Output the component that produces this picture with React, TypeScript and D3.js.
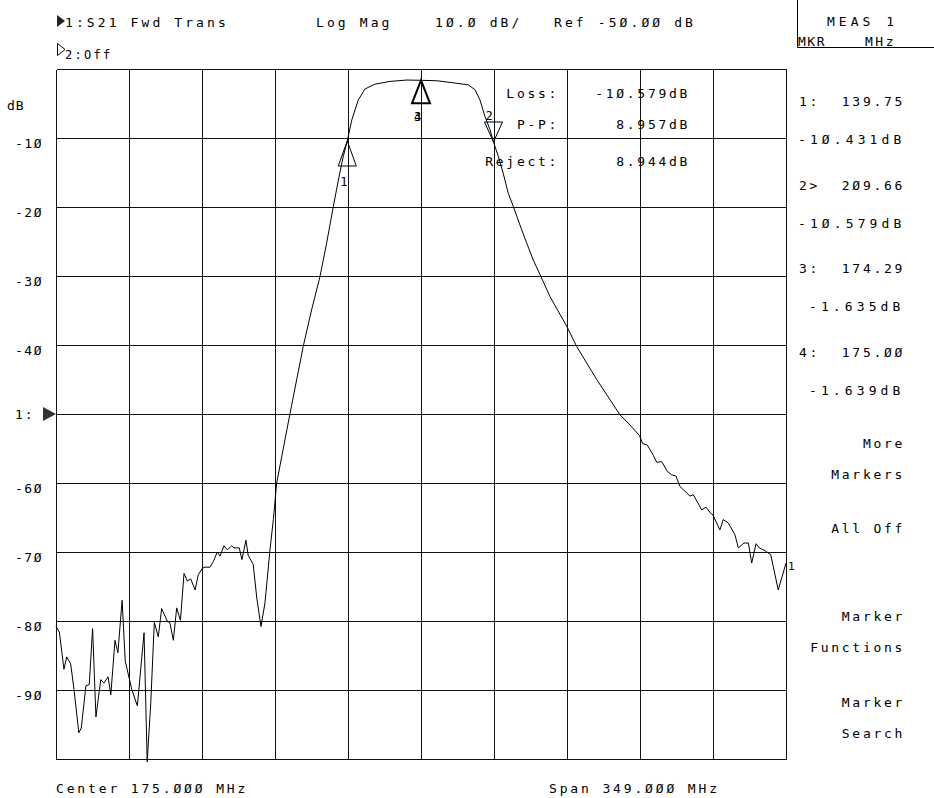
import React from "react";
import * as d3 from "d3";

const freqMHz = [
  0.5, 2.1, 4.3, 5.6, 7.5, 9.1, 11.4, 12.6, 14.8, 16.4, 18.0, 19.6, 21.9, 23.4, 25.4, 26.7, 28.7, 30.1, 32.1, 33.6,
  36.7, 39.4, 42.6, 44.1, 45.8, 47.5, 49.4, 51.0, 53.7, 55.0, 56.6, 58.2, 60.0, 61.7, 63.3, 64.9, 67.0, 68.5, 70.6, 71.7,
  74.1, 75.7, 77.6, 78.9, 80.8, 82.4, 84.5, 85.6, 88.1, 89.4, 91.3, 92.4, 94.8, 96.5, 98.5, 100.4, 102.8, 104.4, 106.0, 112.4,
  118.7, 122.7, 126.7, 129.9, 133.1, 135.5, 137.8, 139.75, 141.9, 145.0, 148.2, 153.0, 160.2, 168.2, 175.0, 182.5, 190.4, 197.6, 200.8, 203.2,
  205.6, 208.0, 209.66, 212.0, 214.3, 216.7, 219.1, 222.3, 225.5, 228.7, 231.9, 236.7, 244.7, 249.4, 259.0, 270.1, 274.9, 279.4, 281.0, 283.2,
  286.1, 287.7, 290.1, 292.7, 294.8, 296.9, 298.8, 301.2, 303.6, 305.2, 309.2, 311.3, 313.2, 314.5, 317.9, 319.5, 321.9, 325.1, 326.7, 329.4,
  331.5, 333.1, 335.2, 336.7, 339.5, 342.2, 345.8, 349.5,
];
const magDB = [
  -80.8, -81.6, -87.0, -85.2, -86.2, -89.9, -96.2, -95.5, -89.4, -89.2, -81.1, -93.9, -88.5, -89.0, -88.1, -90.7, -82.8, -84.6, -77.0, -85.8,
  -89.9, -92.3, -81.7, -100.4, -91.9, -80.2, -82.3, -78.2, -80.0, -80.3, -82.8, -78.1, -79.9, -73.1, -74.2, -73.9, -75.5, -73.3, -72.3, -72.2,
  -72.2, -71.4, -70.0, -70.6, -69.1, -69.7, -69.1, -69.4, -69.4, -71.1, -68.3, -70.5, -71.8, -76.7, -80.8, -77.4, -69.7, -65.3, -60.0, -49.9,
  -40.2, -34.9, -30.1, -25.2, -19.9, -16.1, -12.7, -10.431, -7.4, -4.5, -2.9, -2.2, -1.8, -1.6, -1.639, -1.7, -2.0, -2.3, -3.0, -4.5,
  -6.9, -8.8, -10.579, -12.7, -15.1, -18.0, -19.9, -22.6, -25.2, -27.7, -29.8, -33.0, -37.3, -40.2, -45.0, -50.1, -51.6, -53.1, -54.3, -54.5,
  -56.0, -57.0, -56.9, -58.3, -58.8, -59.0, -60.5, -61.2, -61.9, -61.7, -63.9, -63.5, -64.3, -64.6, -66.8, -65.3, -65.8, -67.5, -69.4, -68.7,
  -68.7, -71.6, -68.8, -69.4, -69.8, -70.4, -75.5, -71.6,
];

const yTickValues = [-10, -20, -30, -40, -60, -70, -80, -90];
const yTickLabels = ["-1Ø", "-2Ø", "-3Ø", "-4Ø", "-6Ø", "-7Ø", "-8Ø", "-9Ø"];

const markerIds = ["1", "2", "3", "4"];
const markerFreq = [139.75, 209.66, 174.29, 175.0];
const markerDB = [-10.431, -10.579, -1.635, -1.639];
const markerFreqText = ["139.75", "2Ø9.66", "174.29", "175.ØØ"];
const markerDBText = ["-1Ø.431dB", "-1Ø.579dB", "-1.635dB", "-1.639dB"];
const markerPrefix = ["1:", "2>", "3:", "4:"];

const statLabels = ["Loss:", "P-P:", "Reject:"];
const statValues = ["-1Ø.579dB", "8.957dB", "8.944dB"];

const softkeys = ["More", "Markers", "All Off", "Marker", "Functions", "Marker", "Search"];
const softkeyY = [448, 479, 533, 621, 652, 707, 738];

const FONT = "'DejaVu Sans Mono', monospace";

export default function App() {
  const W = 934;
  const H = 798;
  const x = d3.scaleLinear().domain([0.5, 349.5]).range([56, 786]);
  const y = d3.scaleLinear().domain([0, -100]).range([69, 759]);
  const xGrid = d3.range(11).map((i) => 0.5 + i * 34.9);
  const yGrid = d3.range(0, -101, -10);
  const pts: [number, number][] = freqMHz.map((f, i) => [f, magDB[i]]);
  const line = d3
    .line<[number, number]>()
    .x((d) => x(d[0]))
    .y((d) => y(d[1]));

  const txt = {
    fontFamily: FONT,
    fontSize: 13,
    letterSpacing: 2.7,
    fill: "#000",
  } as React.CSSProperties;
  const hdr = { ...txt, letterSpacing: 3.1 } as React.CSSProperties;

  const m = (i: number) => [x(markerFreq[i]), y(markerDB[i])];
  const [m1x, m1y] = m(0);
  const [m2x, m2y] = m(1);
  const [m4x, m4y] = m(3);

  return (
    <svg width={W} height={H} style={{ display: "block", position: "absolute", left: 0, top: 0, background: "#fff" }}>
      <rect x={0} y={0} width={W} height={H} fill="#fff" />
      {/* header */}
      <path d="M57,15 L65,21 L57,27 Z" fill="#222" />
      <text x={65} y={27} style={hdr}>1:S21 Fwd Trans</text>
      <text x={316} y={27} style={hdr}>Log Mag</text>
      <text x={435} y={27} style={hdr}>1Ø.Ø dB/</text>
      <text x={554} y={27} style={hdr}>Ref -5Ø.ØØ dB</text>
      <path d="M57.5,43.5 L65,49.5 L57.5,55.5 Z" fill="none" stroke="#000" strokeWidth={1} />
      <text x={65} y={59} style={{ ...txt, fontSize: 12, letterSpacing: 2.3 }}>2:Off</text>

      {/* MEAS box */}
      <path d="M797.5,0 L797.5,47.5 L934,47.5" fill="none" stroke="#000" />
      <text x={827} y={26} style={{ ...txt, letterSpacing: 4 }}>MEAS 1</text>
      <text x={798} y={46} style={{ ...txt, letterSpacing: 1.5 }}>MKR</text>
      <text x={865} y={46} style={{ ...txt, letterSpacing: 2.5 }}>MHz</text>

      {/* grid */}
      <g transform="translate(0.5,0.5)" shapeRendering="crispEdges">
        {xGrid.map((f, i) => (
          <line key={"vx" + i} x1={Math.round(x(f))} x2={Math.round(x(f))} y1={y(0)} y2={y(-100)} stroke="#111" strokeWidth={1} />
        ))}
        {yGrid.map((v, i) => (
          <line key={"hy" + i} x1={x(0.5)} x2={x(349.5)} y1={Math.round(y(v))} y2={Math.round(y(v))} stroke="#111" strokeWidth={1} />
        ))}
      </g>

      {/* y labels */}
      <text x={7} y={110} style={{ ...txt, letterSpacing: 1 }}>dB</text>
      {yTickValues.map((v, i) => (
        <text key={"yl" + i} x={43} y={y(v) + 10} textAnchor="end" style={{ ...txt, letterSpacing: 1.5 }}>
          {yTickLabels[i]}
        </text>
      ))}
      <text x={15} y={y(-50) + 5} style={{ ...txt, letterSpacing: 2 }}>1:</text>
      <path d={`M43,${y(-50) - 7} L56,${y(-50)} L43,${y(-50) + 7} Z`} fill="#333" />

      {/* trace */}
      <path d={line(pts) || ""} fill="none" stroke="#000" strokeWidth={1} />
      <text x={788} y={570} style={{ ...txt, fontSize: 11, letterSpacing: 0 }}>1</text>

      {/* markers */}
      <path d={`M${m1x},${m1y} L${m1x - 9},${m1y + 25} L${m1x + 9},${m1y + 25} Z`} fill="none" stroke="#000" />
      <text x={m1x - 7} y={m1y + 45} style={{ ...txt, fontSize: 12, letterSpacing: 0 }}>1</text>
      <path d={`M${m2x},${m2y} L${m2x - 9},${m2y - 20} L${m2x + 9},${m2y - 20} Z`} fill="none" stroke="#000" />
      <text x={m2x - 8} y={m2y - 22} style={{ ...txt, fontSize: 12, letterSpacing: 0 }}>2</text>
      <path d={`M${m4x},${m4y} L${m4x - 9},${m4y + 23} L${m4x + 9},${m4y + 23} Z`} fill="none" stroke="#000" strokeWidth={2} />
      <text x={m4x - 7} y={m4y + 41} style={{ ...txt, fontSize: 12, letterSpacing: 0 }}>3</text>
      <text x={m4x - 7} y={m4y + 41} style={{ ...txt, fontSize: 12, letterSpacing: 0 }}>4</text>

      {/* stats */}
      {statLabels.map((s, i) => (
        <text key={"sl" + i} x={559} y={[98, 129, 166][i]} textAnchor="end" style={txt}>
          {s}
        </text>
      ))}
      {statValues.map((s, i) => (
        <text key={"sv" + i} x={690} y={[98, 129, 166][i]} textAnchor="end" style={txt}>
          {s}
        </text>
      ))}

      {/* marker readouts */}
      {markerIds.map((id, i) => (
        <g key={"mr" + id}>
          <text x={799} y={106 + i * 83.5} style={txt}>{markerPrefix[i]}</text>
          <text x={905} y={106 + i * 83.5} textAnchor="end" style={txt}>{markerFreqText[i]}</text>
          <text x={markerDBText[i].length > 8 ? 798 : 809} y={144 + i * 83.5} style={{ ...txt, letterSpacing: 4.1 }}>
            {markerDBText[i]}
          </text>
        </g>
      ))}

      {/* softkeys */}
      {softkeys.map((s, i) => (
        <text key={"sk" + i} x={905} y={softkeyY[i]} textAnchor="end" style={txt}>
          {s}
        </text>
      ))}

      {/* footer */}
      <text x={56} y={793} style={{ ...txt, letterSpacing: 2.85 }}>Center 175.ØØØ MHz</text>
      <text x={549} y={793} style={{ ...txt, letterSpacing: 2.85 }}>Span 349.ØØØ MHz</text>
    </svg>
  );
}
